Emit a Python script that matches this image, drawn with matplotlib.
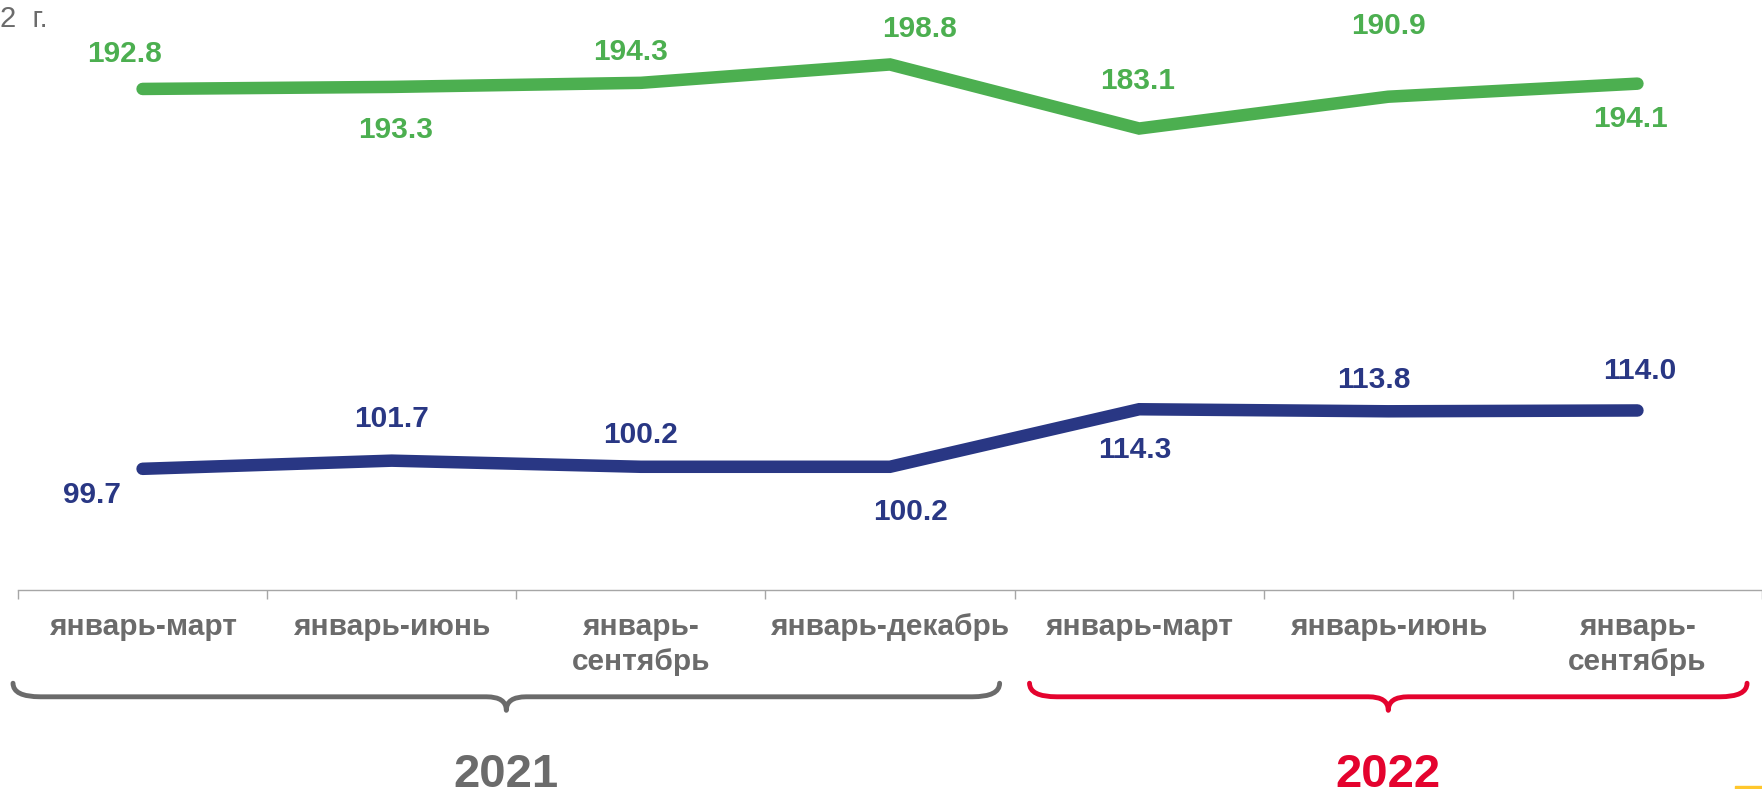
# Динамика двух показателей, 2021-2022

import matplotlib.pyplot as plt
import numpy as np
from matplotlib.path import Path
from matplotlib.patches import PathPatch, Rectangle
from matplotlib.transforms import blended_transform_factory

plt.rcParams['font.family'] = ['Liberation Sans', 'DejaVu Sans']

# Данные
periodos = ['январь-март', 'январь-июнь', 'январь-\nсентябрь', 'январь-декабрь',
            'январь-март', 'январь-июнь', 'январь-\nсентябрь']
anos = ['2021', '2022']
serieVerde = [192.8, 193.3, 194.3, 198.8, 183.1, 190.9, 194.1]
serieAzul = [99.7, 101.7, 100.2, 100.2, 114.3, 113.8, 114.0]

# Cores
verde = '#4caf50'
azul = '#293784'
cinza = '#6b6b6b'
vermelho = '#e4032e'
eixo = '#a6a6a6'

# deslocamento dos rótulos (px): (dx, dy da linha de base)
offVerde = [(-18, 27), (4, -51), (-10, 23), (30, 27), (-2, 40), (0, 63), (-7, -43)]
offAzul = [(-51, -34), (0, 34), (0, 24), (21, -53), (-4, -49), (-14, 23), (2, 31)]

W, H = 1762, 789
fig = plt.figure(figsize=(W / 100, H / 100), dpi=100)
ax = fig.add_axes([18 / W, 1 - 590 / H, (W - 18) / W, 590 / H])

x = np.arange(len(periodos))

ax.plot(x, serieVerde, color=verde, lw=9, solid_capstyle='round', solid_joinstyle='miter')
ax.plot(x, serieAzul, color=azul, lw=9, solid_capstyle='round', solid_joinstyle='miter')

for xi, v, (dx, dy) in zip(x, serieVerde, offVerde):
    ax.annotate(f'{v:.1f}', (xi, v), xytext=(dx, dy), textcoords='offset pixels',
                ha='center', va='baseline', fontsize=21.5, fontweight='bold', color=verde)
for xi, v, (dx, dy) in zip(x, serieAzul, offAzul):
    ax.annotate(f'{v:.1f}', (xi, v), xytext=(dx, dy), textcoords='offset pixels',
                ha='center', va='baseline', fontsize=21.5, fontweight='bold', color=azul)

ax.set_xlim(-0.5, 6.448)
ax.set_ylim(70, 214.6)

for s in ['top', 'left', 'right']:
    ax.spines[s].set_visible(False)
ax.spines['bottom'].set_color(eixo)
ax.spines['bottom'].set_linewidth(1)
ax.set_yticks([])

# marcas nos limites das categorias, rótulos no centro
ax.set_xticks(np.arange(-0.5, len(periodos), 1))
ax.set_xticklabels([])
ax.tick_params(axis='x', which='major', length=6.5, width=1, color=eixo)
ax.set_xticks(x, minor=True)
ax.set_xticklabels(periodos, minor=True)
ax.tick_params(axis='x', which='minor', length=0, pad=16.5, labelsize=21.5, labelcolor=cinza)
for lab in ax.get_xticklabels(minor=True):
    lab.set_fontweight('bold')
    lab.set_linespacing(1.33)

# chaves dos anos
trans = blended_transform_factory(ax.transData, ax.transAxes)


def chave(x0, x1, cor):
    xm = (x0 + x1) / 2
    ye, yh, yt = -0.158, -0.181, -0.204
    rx, rc = 0.11, 0.08
    verts = [(x0, ye), (x0, yh), (x0 + rx, yh),
             (xm - rc, yh),
             (xm, yh), (xm, yt),
             (xm, yh), (xm + rc, yh),
             (x1 - rx, yh),
             (x1, yh), (x1, ye)]
    codes = [Path.MOVETO, Path.CURVE3, Path.CURVE3,
             Path.LINETO,
             Path.CURVE3, Path.CURVE3,
             Path.CURVE3, Path.CURVE3,
             Path.LINETO,
             Path.CURVE3, Path.CURVE3]
    p = PathPatch(Path(verts, codes), fill=False, edgecolor=cor, lw=3.5,
                  capstyle='round', joinstyle='round', transform=trans, clip_on=False)
    ax.add_patch(p)
    return xm


spans = [(-0.52, 3.44), (3.56, 6.44)]
coresAno = [cinza, vermelho]
for ano, (a, b), cor in zip(anos, spans, coresAno):
    xm = chave(a, b, cor)
    ax.text(xm, -0.334, ano, transform=trans, ha='center', va='baseline',
            fontsize=34, fontweight='bold', color=cor)

# restos do slide original
fig.text(0, 1 - 27 / H, '2  г.', ha='left', va='baseline', fontsize=21, color=cinza)
fig.patches.append(Rectangle((1735 / W, 0), 27 / W, 3 / H, transform=fig.transFigure,
                             color='#ffc72c', figure=fig))

fig.savefig('out.png', dpi=100)
